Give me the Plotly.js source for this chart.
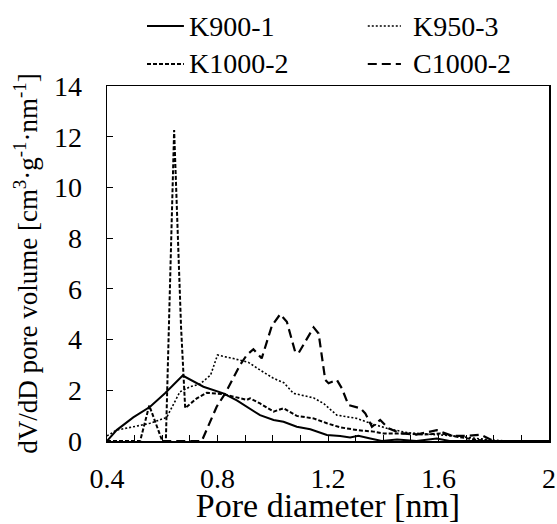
<!DOCTYPE html>
<html>
<head>
<meta charset="utf-8">
<script src="https://cdn.plot.ly/plotly-3.0.1.min.js"></script>
<style>html,body{margin:0;padding:0;background:#fff;}#chart{width:557px;height:524px;}</style>
</head>
<body>
<div id="chart"></div>
<script>
// K900-1 (solid)
const k900x = [0.4,0.435,0.495,0.556,0.61,0.674,0.749,0.821,0.87,0.906,0.954,1.003,1.039,1.087,1.136,1.196,1.244,1.28,1.31,1.353,1.395,1.45,1.52,1.594,1.64,2.0];
const k900y = [0,0.43,0.93,1.35,1.88,2.58,2.14,1.88,1.6,1.35,1.02,0.83,0.76,0.56,0.46,0.24,0.2,0.14,0.21,0.1,0,0.06,0,0.1,0,0];
// K950-3 (dotted)
const k950x = [0.4,0.435,0.495,0.556,0.616,0.664,0.701,0.737,0.775,0.8,0.858,0.912,0.954,1.003,1.04,1.075,1.148,1.184,1.232,1.305,1.353,1.413,1.486,1.57,1.643,1.715,1.788,1.85,2.0];
const k950y = [0.2,0.43,0.56,0.7,0.93,1.94,2.14,2.25,2.6,3.39,3.25,3.1,2.8,2.47,2.3,1.88,1.7,1.48,1.02,0.89,0.7,0.5,0.33,0.28,0.21,0.13,0.04,0,0];
// K1000-2 (short dash)
const k1000x = [0.4,0.52,0.553,0.6,0.613,0.643,0.668,0.683,0.725,0.761,0.821,0.858,0.906,0.918,0.954,1.003,1.039,1.087,1.148,1.196,1.244,1.305,1.365,1.401,1.474,1.546,1.607,1.667,1.74,1.8,2.0];
const k1000y = [0,0,1.4,0,0,12.26,4.5,1.3,1.68,1.9,1.85,1.75,1.62,1.68,1.48,1.16,1.29,0.99,0.89,0.7,0.54,0.43,0.37,0.3,0.3,0.25,0.3,0.17,0.04,0,0];
// C1000-2 (long dash)
const c1000x = [0.6,0.743,0.797,0.828,0.882,0.906,0.93,0.96,0.997,1.027,1.051,1.081,1.093,1.124,1.148,1.166,1.19,1.202,1.232,1.25,1.274,1.317,1.335,1.359,1.389,1.419,1.462,1.52,1.594,1.65,1.7,1.752,1.8,2.0];
const c1000y = [0,0,1.35,1.88,3.0,3.39,3.62,3.26,4.55,5.0,4.7,3.52,3.46,4.05,4.48,4.24,2.41,2.28,2.41,2.08,1.42,1.29,1.09,0.56,0.83,0.5,0.3,0.25,0.43,0.2,0.2,0.25,0,0];

const seriesNames = ['K900-1','K950-3','K1000-2','C1000-2'];
const xTickVals = [0.4,0.8,1.2,1.6,2.0];
const xTickText = ['0.4','0.8','1.2','1.6','2'];
const yTickVals = [0,2,4,6,8,10,12,14];

const styles = [
  {color:'#000', width:2, dash:'solid'},
  {color:'#000', width:1.6, dash:'2px,2px'},
  {color:'#000', width:2, dash:'4px,2px'},
  {color:'#000', width:2.2, dash:'9px,5px'}
];
const xs = [k900x, k950x, k1000x, c1000x];
const ys = [k900y, k950y, k1000y, c1000y];

const traces = seriesNames.map((n, i) => ({x:xs[i], y:ys[i], name:n, mode:'lines', line:styles[i]}));

// legend drawn as paper-positioned line samples + text labels
const legPos = [
  {sx0:0.0905, sx1:0.174, tx:0.181, y:1.169},
  {sx0:0.590, sx1:0.665, tx:0.688, y:1.169},
  {sx0:0.0905, sx1:0.174, tx:0.181, y:1.062},
  {sx0:0.590, sx1:0.665, tx:0.688, y:1.062}
];
const shapes = legPos.map((p, i) => ({
  type:'line', xref:'paper', yref:'paper', x0:p.sx0, x1:p.sx1, y0:p.y, y1:p.y, line:styles[i]
}));
const annotations = legPos.map((p, i) => ({
  xref:'paper', yref:'paper', x:p.tx, y:p.y, xanchor:'left', yanchor:'middle',
  showarrow:false, text:seriesNames[i]
}));

const layout = {
  width:557, height:524,
  margin:{l:107, r:8, t:86, b:83},
  font:{family:'Liberation Serif', size:28, color:'#000'},
  showlegend:false,
  shapes:shapes,
  annotations:annotations,
  xaxis:{
    range:[0.4,2.0], tickvals:xTickVals, ticktext:xTickText,
    ticks:'inside', ticklen:6, tickwidth:1, tickcolor:'#000',
    minor:{dtick:0.1, tick0:0.4, ticks:'inside', ticklen:6, tickwidth:1, tickcolor:'#000'},
    showline:true, linecolor:'#000', linewidth:1.5, mirror:true,
    showgrid:false, zeroline:false,
    ticklabelstandoff:12,
    title:{text:'Pore diameter [nm]', standoff:4}
  },
  yaxis:{
    range:[0,14], tickvals:yTickVals,
    ticks:'inside', ticklen:6, tickwidth:1, tickcolor:'#000',
    showline:true, linecolor:'#000', linewidth:1.5, mirror:true,
    showgrid:false, zeroline:false,
    ticklabelstandoff:18,
    title:{text:'dV/dD pore volume [cm<sup>3</sup>·g<sup>-1</sup>·nm<sup>-1</sup>]', font:{size:27}, standoff:8}
  }
};

Plotly.newPlot('chart', traces, layout, {staticPlot:true});
</script>
</body>
</html>
